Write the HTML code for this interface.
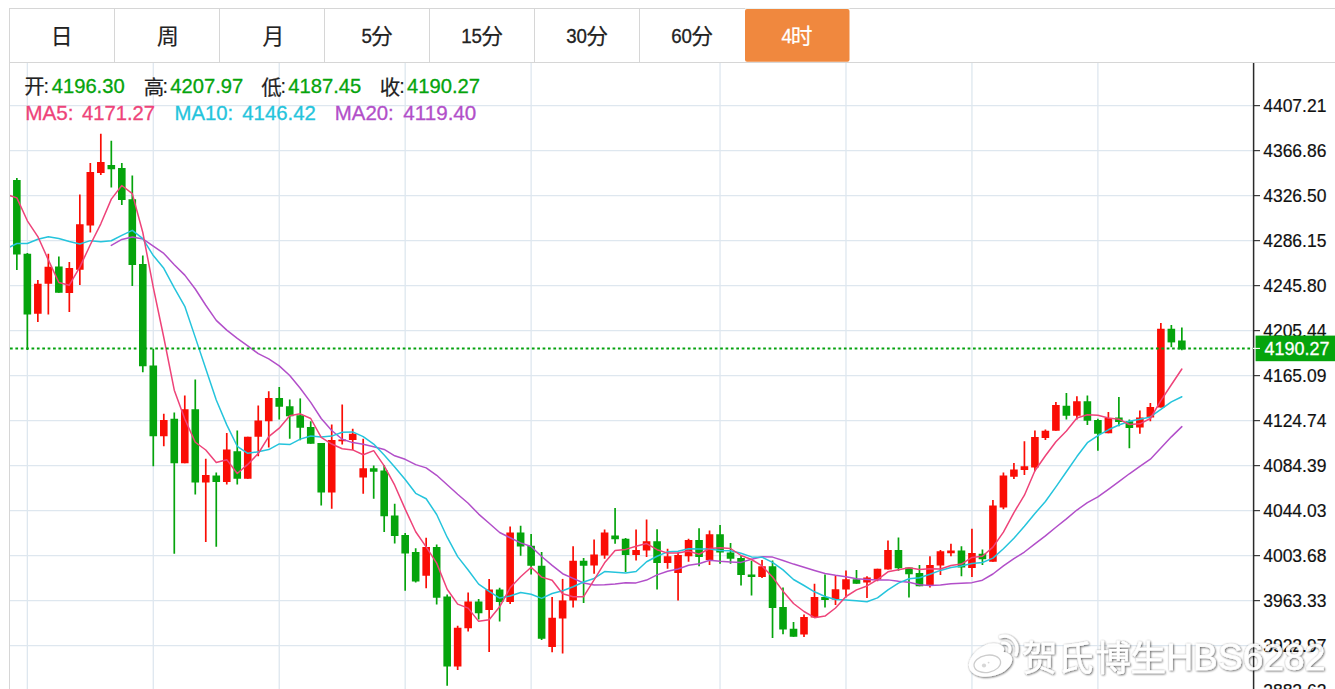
<!DOCTYPE html>
<html><head><meta charset="utf-8"><title>K-line chart</title>
<style>html,body{margin:0;padding:0;background:#fff;}body{width:1335px;height:689px;overflow:hidden;position:relative;font-family:"Liberation Sans",sans-serif;}text{white-space:pre}</style></head><body>
<svg width="1335" height="689" viewBox="0 0 1335 689" style="position:absolute;left:0;top:0;display:block"><defs><clipPath id="plot"><rect x="10" y="63" width="1243" height="626"/></clipPath><filter id="wsh" x="-5%" y="-20%" width="110%" height="140%"><feGaussianBlur in="SourceAlpha" stdDeviation="0.9" result="b"/><feOffset in="b" dx="0.6" dy="0.7" result="ob"/><feFlood flood-color="#000" flood-opacity="0.55"/><feComposite in2="ob" operator="in" result="s1"/><feFlood flood-color="#000" flood-opacity="0.3"/><feComposite in2="b" operator="in" result="s2"/><feMerge><feMergeNode in="s2"/><feMergeNode in="s1"/><feMergeNode in="SourceGraphic"/></feMerge></filter></defs><line x1="10" x2="1253" y1="105.65" y2="105.65" stroke="#dee7ef" stroke-width="1.3"/>
<line x1="10" x2="1253" y1="150.65" y2="150.65" stroke="#dee7ef" stroke-width="1.3"/>
<line x1="10" x2="1253" y1="195.65" y2="195.65" stroke="#dee7ef" stroke-width="1.3"/>
<line x1="10" x2="1253" y1="240.65" y2="240.65" stroke="#dee7ef" stroke-width="1.3"/>
<line x1="10" x2="1253" y1="285.65" y2="285.65" stroke="#dee7ef" stroke-width="1.3"/>
<line x1="10" x2="1253" y1="330.65" y2="330.65" stroke="#dee7ef" stroke-width="1.3"/>
<line x1="10" x2="1253" y1="375.65" y2="375.65" stroke="#dee7ef" stroke-width="1.3"/>
<line x1="10" x2="1253" y1="420.65" y2="420.65" stroke="#dee7ef" stroke-width="1.3"/>
<line x1="10" x2="1253" y1="465.65" y2="465.65" stroke="#dee7ef" stroke-width="1.3"/>
<line x1="10" x2="1253" y1="510.65" y2="510.65" stroke="#dee7ef" stroke-width="1.3"/>
<line x1="10" x2="1253" y1="555.65" y2="555.65" stroke="#dee7ef" stroke-width="1.3"/>
<line x1="10" x2="1253" y1="600.65" y2="600.65" stroke="#dee7ef" stroke-width="1.3"/>
<line x1="10" x2="1253" y1="645.65" y2="645.65" stroke="#dee7ef" stroke-width="1.3"/>
<line x1="27.35" x2="27.35" y1="63" y2="689" stroke="#dee7ef" stroke-width="1.3"/>
<line x1="153.29" x2="153.29" y1="63" y2="689" stroke="#dee7ef" stroke-width="1.3"/>
<line x1="279.24" x2="279.24" y1="63" y2="689" stroke="#dee7ef" stroke-width="1.3"/>
<line x1="405.18" x2="405.18" y1="63" y2="689" stroke="#dee7ef" stroke-width="1.3"/>
<line x1="531.13" x2="531.13" y1="63" y2="689" stroke="#dee7ef" stroke-width="1.3"/>
<line x1="720.05" x2="720.05" y1="63" y2="689" stroke="#dee7ef" stroke-width="1.3"/>
<line x1="845.99" x2="845.99" y1="63" y2="689" stroke="#dee7ef" stroke-width="1.3"/>
<line x1="971.94" x2="971.94" y1="63" y2="689" stroke="#dee7ef" stroke-width="1.3"/>
<line x1="1097.89" x2="1097.89" y1="63" y2="689" stroke="#dee7ef" stroke-width="1.3"/>
<line x1="9" x2="1335" y1="8.5" y2="8.5" stroke="#d6d6d6" stroke-width="1"/>
<line x1="9" x2="1335" y1="62.5" y2="62.5" stroke="#d6d6d6" stroke-width="1"/>
<line x1="9.5" x2="9.5" y1="8" y2="689" stroke="#d6d6d6" stroke-width="1"/>
<line x1="114.5" x2="114.5" y1="9" y2="62" stroke="#d6d6d6" stroke-width="1"/>
<line x1="219.5" x2="219.5" y1="9" y2="62" stroke="#d6d6d6" stroke-width="1"/>
<line x1="324.5" x2="324.5" y1="9" y2="62" stroke="#d6d6d6" stroke-width="1"/>
<line x1="429.5" x2="429.5" y1="9" y2="62" stroke="#d6d6d6" stroke-width="1"/>
<line x1="534.5" x2="534.5" y1="9" y2="62" stroke="#d6d6d6" stroke-width="1"/>
<line x1="639.5" x2="639.5" y1="9" y2="62" stroke="#d6d6d6" stroke-width="1"/>
<line x1="745" x2="849.5" y1="8.5" y2="8.5" stroke="#eaf2f2" stroke-width="1.2"/><rect x="745" y="8.9" width="104.5" height="52.9" rx="2" fill="#f0883e"/>
<text x="50.84" y="44.16" font-size="21.8" font-family="'Liberation Sans', 'Noto Sans CJK SC', sans-serif" fill="#222" text-anchor="start" stroke="#222" stroke-width="0.2">日</text>
<text x="156.89" y="44.19" font-size="21.8" font-family="'Liberation Sans', 'Noto Sans CJK SC', sans-serif" fill="#222" text-anchor="start" stroke="#222" stroke-width="0.2">周</text>
<text x="262.59" y="44.19" font-size="21.8" font-family="'Liberation Sans', 'Noto Sans CJK SC', sans-serif" fill="#222" text-anchor="start" stroke="#222" stroke-width="0.2">月</text>
<text x="361.4" y="43.2" font-size="19.5" font-family="Liberation Sans, sans-serif" fill="#222" text-anchor="start" textLength="10.4" lengthAdjust="spacingAndGlyphs"  stroke="#222" stroke-width="0.3">5</text>
<text x="371.07" y="43.94" font-size="21.8" font-family="'Liberation Sans', 'Noto Sans CJK SC', sans-serif" fill="#222" text-anchor="start" stroke="#222" stroke-width="0.2">分</text>
<text x="461.2" y="43.2" font-size="19.5" font-family="Liberation Sans, sans-serif" fill="#222" text-anchor="start" textLength="20.8" lengthAdjust="spacingAndGlyphs"  stroke="#222" stroke-width="0.3">15</text>
<text x="481.27" y="43.94" font-size="21.8" font-family="'Liberation Sans', 'Noto Sans CJK SC', sans-serif" fill="#222" text-anchor="start" stroke="#222" stroke-width="0.2">分</text>
<text x="566.2" y="43.2" font-size="19.5" font-family="Liberation Sans, sans-serif" fill="#222" text-anchor="start" textLength="20.8" lengthAdjust="spacingAndGlyphs"  stroke="#222" stroke-width="0.3">30</text>
<text x="586.27" y="43.94" font-size="21.8" font-family="'Liberation Sans', 'Noto Sans CJK SC', sans-serif" fill="#222" text-anchor="start" stroke="#222" stroke-width="0.2">分</text>
<text x="671.2" y="43.2" font-size="19.5" font-family="Liberation Sans, sans-serif" fill="#222" text-anchor="start" textLength="20.8" lengthAdjust="spacingAndGlyphs"  stroke="#222" stroke-width="0.3">60</text>
<text x="691.27" y="43.94" font-size="21.8" font-family="'Liberation Sans', 'Noto Sans CJK SC', sans-serif" fill="#222" text-anchor="start" stroke="#222" stroke-width="0.2">分</text>
<text x="781.4" y="43.2" font-size="19.5" font-family="Liberation Sans, sans-serif" fill="#fff" text-anchor="start" textLength="10.4" lengthAdjust="spacingAndGlyphs"  stroke="#fff" stroke-width="0.3">4</text>
<text x="790.65" y="44.22" font-size="21.8" font-family="'Liberation Sans', 'Noto Sans CJK SC', sans-serif" fill="#fff" text-anchor="start" stroke="#fff" stroke-width="0.2">时</text>
<text x="24.29" y="94.11" font-size="20.5" font-family="'Liberation Sans', 'Noto Sans CJK SC', sans-serif" fill="#222" text-anchor="start" stroke="#222" stroke-width="0.2">开</text>
<text x="43.6" y="92.9" font-size="19.8" font-family="Liberation Sans, sans-serif" fill="#222" text-anchor="start"  stroke="#222" stroke-width="0.15">:</text>
<text x="143.74" y="94.84" font-size="20.5" font-family="'Liberation Sans', 'Noto Sans CJK SC', sans-serif" fill="#222" text-anchor="start" stroke="#222" stroke-width="0.2">高</text>
<text x="162.6" y="92.9" font-size="19.8" font-family="Liberation Sans, sans-serif" fill="#222" text-anchor="start"  stroke="#222" stroke-width="0.15">:</text>
<text x="261.22" y="94.74" font-size="20.5" font-family="'Liberation Sans', 'Noto Sans CJK SC', sans-serif" fill="#222" text-anchor="start" stroke="#222" stroke-width="0.2">低</text>
<text x="280.6" y="92.9" font-size="19.8" font-family="Liberation Sans, sans-serif" fill="#222" text-anchor="start"  stroke="#222" stroke-width="0.15">:</text>
<text x="379.74" y="94.79" font-size="20.5" font-family="'Liberation Sans', 'Noto Sans CJK SC', sans-serif" fill="#222" text-anchor="start" stroke="#222" stroke-width="0.2">收</text>
<text x="399.2" y="92.9" font-size="19.8" font-family="Liberation Sans, sans-serif" fill="#222" text-anchor="start"  stroke="#222" stroke-width="0.15">:</text>
<text x="51.7" y="93.3" font-size="19.8" font-family="Liberation Sans, sans-serif" fill="#05a40c" text-anchor="start" textLength="73" lengthAdjust="spacingAndGlyphs"  stroke="#05a40c" stroke-width="0.3">4196.30</text>
<text x="170.3" y="93.3" font-size="19.8" font-family="Liberation Sans, sans-serif" fill="#05a40c" text-anchor="start" textLength="73" lengthAdjust="spacingAndGlyphs"  stroke="#05a40c" stroke-width="0.3">4207.97</text>
<text x="288.3" y="93.3" font-size="19.8" font-family="Liberation Sans, sans-serif" fill="#05a40c" text-anchor="start" textLength="73" lengthAdjust="spacingAndGlyphs"  stroke="#05a40c" stroke-width="0.3">4187.45</text>
<text x="407" y="93.3" font-size="19.8" font-family="Liberation Sans, sans-serif" fill="#05a40c" text-anchor="start" textLength="73" lengthAdjust="spacingAndGlyphs"  stroke="#05a40c" stroke-width="0.3">4190.27</text>
<text x="25.2" y="120.4" font-size="19.8" font-family="Liberation Sans, sans-serif" fill="#ee4379" text-anchor="start" textLength="48.4" lengthAdjust="spacingAndGlyphs"  stroke="#ee4379" stroke-width="0.3">MA5:</text>
<text x="82" y="120.4" font-size="19.8" font-family="Liberation Sans, sans-serif" fill="#ee4379" text-anchor="start" textLength="73" lengthAdjust="spacingAndGlyphs"  stroke="#ee4379" stroke-width="0.3">4171.27</text>
<text x="174.6" y="120.4" font-size="19.8" font-family="Liberation Sans, sans-serif" fill="#25c4dc" text-anchor="start" textLength="58.6" lengthAdjust="spacingAndGlyphs"  stroke="#25c4dc" stroke-width="0.3">MA10:</text>
<text x="242.3" y="120.4" font-size="19.8" font-family="Liberation Sans, sans-serif" fill="#25c4dc" text-anchor="start" textLength="73.6" lengthAdjust="spacingAndGlyphs"  stroke="#25c4dc" stroke-width="0.3">4146.42</text>
<text x="334.8" y="120.4" font-size="19.8" font-family="Liberation Sans, sans-serif" fill="#b24fc9" text-anchor="start" textLength="59" lengthAdjust="spacingAndGlyphs"  stroke="#b24fc9" stroke-width="0.3">MA20:</text>
<text x="403.3" y="120.4" font-size="19.8" font-family="Liberation Sans, sans-serif" fill="#b24fc9" text-anchor="start" textLength="73" lengthAdjust="spacingAndGlyphs"  stroke="#b24fc9" stroke-width="0.3">4119.40</text>
<g clip-path="url(#plot)"><line x1="16.85" x2="16.85" y1="178" y2="270" stroke="#05a40c" stroke-width="1.7"/><rect x="13.05" y="180" width="7.6" height="74.5" fill="#05a40c"/><line x1="27.35" x2="27.35" y1="253" y2="350" stroke="#05a40c" stroke-width="1.7"/><rect x="23.55" y="253.75" width="7.6" height="60.75" fill="#05a40c"/><line x1="37.84" x2="37.84" y1="280" y2="322" stroke="#fa0d05" stroke-width="1.7"/><rect x="34.04" y="283.75" width="7.6" height="30" fill="#fa0d05"/><line x1="48.34" x2="48.34" y1="253.75" y2="314.5" stroke="#fa0d05" stroke-width="1.7"/><rect x="44.54" y="266.75" width="7.6" height="17" fill="#fa0d05"/><line x1="58.83" x2="58.83" y1="256.5" y2="292.75" stroke="#05a40c" stroke-width="1.7"/><rect x="55.03" y="266.5" width="7.6" height="26.25" fill="#05a40c"/><line x1="69.33" x2="69.33" y1="262" y2="312" stroke="#fa0d05" stroke-width="1.7"/><rect x="65.53" y="268" width="7.6" height="25" fill="#fa0d05"/><line x1="79.82" x2="79.82" y1="194.5" y2="285" stroke="#fa0d05" stroke-width="1.7"/><rect x="76.02" y="224.25" width="7.6" height="45.5" fill="#fa0d05"/><line x1="90.32" x2="90.32" y1="163" y2="232.5" stroke="#fa0d05" stroke-width="1.7"/><rect x="86.52" y="172" width="7.6" height="53.5" fill="#fa0d05"/><line x1="100.81" x2="100.81" y1="133.75" y2="175" stroke="#fa0d05" stroke-width="1.7"/><rect x="97.01" y="162" width="7.6" height="11" fill="#fa0d05"/><line x1="111.31" x2="111.31" y1="140.75" y2="187.5" stroke="#05a40c" stroke-width="1.7"/><rect x="107.51" y="165" width="7.6" height="4.25" fill="#05a40c"/><line x1="121.81" x2="121.81" y1="163" y2="205" stroke="#05a40c" stroke-width="1.7"/><rect x="118.01" y="168" width="7.6" height="32" fill="#05a40c"/><line x1="132.3" x2="132.3" y1="175.5" y2="286" stroke="#05a40c" stroke-width="1.7"/><rect x="128.5" y="199.25" width="7.6" height="65.75" fill="#05a40c"/><line x1="142.8" x2="142.8" y1="255.5" y2="372.25" stroke="#05a40c" stroke-width="1.7"/><rect x="139" y="264" width="7.6" height="102.25" fill="#05a40c"/><line x1="153.29" x2="153.29" y1="348.75" y2="466.25" stroke="#05a40c" stroke-width="1.7"/><rect x="149.49" y="365.5" width="7.6" height="70.75" fill="#05a40c"/><line x1="163.79" x2="163.79" y1="413.75" y2="446.25" stroke="#fa0d05" stroke-width="1.7"/><rect x="159.99" y="420" width="7.6" height="16.25" fill="#fa0d05"/><line x1="174.28" x2="174.28" y1="412.5" y2="553.75" stroke="#05a40c" stroke-width="1.7"/><rect x="170.48" y="418.75" width="7.6" height="44.5" fill="#05a40c"/><line x1="184.78" x2="184.78" y1="395.5" y2="463.25" stroke="#fa0d05" stroke-width="1.7"/><rect x="180.98" y="409.25" width="7.6" height="54" fill="#fa0d05"/><line x1="195.27" x2="195.27" y1="379.5" y2="494.5" stroke="#05a40c" stroke-width="1.7"/><rect x="191.47" y="409.25" width="7.6" height="73.25" fill="#05a40c"/><line x1="205.77" x2="205.77" y1="458.75" y2="542" stroke="#fa0d05" stroke-width="1.7"/><rect x="201.97" y="475" width="7.6" height="7.5" fill="#fa0d05"/><line x1="216.26" x2="216.26" y1="472.5" y2="546.75" stroke="#05a40c" stroke-width="1.7"/><rect x="212.46" y="475.5" width="7.6" height="6.5" fill="#05a40c"/><line x1="226.76" x2="226.76" y1="433" y2="484.5" stroke="#fa0d05" stroke-width="1.7"/><rect x="222.96" y="449.5" width="7.6" height="32.5" fill="#fa0d05"/><line x1="237.26" x2="237.26" y1="430.5" y2="484.5" stroke="#05a40c" stroke-width="1.7"/><rect x="233.46" y="451.25" width="7.6" height="27.5" fill="#05a40c"/><line x1="247.75" x2="247.75" y1="436.75" y2="478.75" stroke="#fa0d05" stroke-width="1.7"/><rect x="243.95" y="436.75" width="7.6" height="42" fill="#fa0d05"/><line x1="258.25" x2="258.25" y1="405.5" y2="456.25" stroke="#fa0d05" stroke-width="1.7"/><rect x="254.45" y="420.5" width="7.6" height="16.25" fill="#fa0d05"/><line x1="268.74" x2="268.74" y1="391.25" y2="447.5" stroke="#fa0d05" stroke-width="1.7"/><rect x="264.94" y="398" width="7.6" height="23.25" fill="#fa0d05"/><line x1="279.24" x2="279.24" y1="387" y2="419.5" stroke="#05a40c" stroke-width="1.7"/><rect x="275.44" y="398" width="7.6" height="8.75" fill="#05a40c"/><line x1="289.73" x2="289.73" y1="399.5" y2="438.75" stroke="#05a40c" stroke-width="1.7"/><rect x="285.93" y="406.25" width="7.6" height="10" fill="#05a40c"/><line x1="300.23" x2="300.23" y1="398.4" y2="440.25" stroke="#05a40c" stroke-width="1.7"/><rect x="296.43" y="415.25" width="7.6" height="12.5" fill="#05a40c"/><line x1="310.72" x2="310.72" y1="421.25" y2="443.75" stroke="#05a40c" stroke-width="1.7"/><rect x="306.92" y="427" width="7.6" height="16.75" fill="#05a40c"/><line x1="321.22" x2="321.22" y1="443" y2="505.5" stroke="#05a40c" stroke-width="1.7"/><rect x="317.42" y="443" width="7.6" height="49.5" fill="#05a40c"/><line x1="331.72" x2="331.72" y1="424.5" y2="508.75" stroke="#fa0d05" stroke-width="1.7"/><rect x="327.92" y="440" width="7.6" height="52.5" fill="#fa0d05"/><line x1="342.21" x2="342.21" y1="404.5" y2="444.5" stroke="#fa0d05" stroke-width="1.7"/><rect x="338.41" y="439.5" width="7.6" height="1.75" fill="#fa0d05"/><line x1="352.71" x2="352.71" y1="428.75" y2="450" stroke="#fa0d05" stroke-width="1.7"/><rect x="348.91" y="433.75" width="7.6" height="6.25" fill="#fa0d05"/><line x1="363.2" x2="363.2" y1="438.75" y2="493.75" stroke="#fa0d05" stroke-width="1.7"/><rect x="359.4" y="468.25" width="7.6" height="9.25" fill="#fa0d05"/><line x1="373.7" x2="373.7" y1="465.5" y2="498.75" stroke="#05a40c" stroke-width="1.7"/><rect x="369.9" y="468.25" width="7.6" height="3.5" fill="#05a40c"/><line x1="384.19" x2="384.19" y1="465" y2="532" stroke="#05a40c" stroke-width="1.7"/><rect x="380.39" y="470.5" width="7.6" height="45.75" fill="#05a40c"/><line x1="394.69" x2="394.69" y1="503.75" y2="543.5" stroke="#05a40c" stroke-width="1.7"/><rect x="390.89" y="515.5" width="7.6" height="20.5" fill="#05a40c"/><line x1="405.18" x2="405.18" y1="533" y2="590.75" stroke="#05a40c" stroke-width="1.7"/><rect x="401.38" y="535" width="7.6" height="18.5" fill="#05a40c"/><line x1="415.68" x2="415.68" y1="548.25" y2="582.5" stroke="#05a40c" stroke-width="1.7"/><rect x="411.88" y="552" width="7.6" height="29.5" fill="#05a40c"/><line x1="426.17" x2="426.17" y1="537.75" y2="588.25" stroke="#fa0d05" stroke-width="1.7"/><rect x="422.37" y="547" width="7.6" height="28.75" fill="#fa0d05"/><line x1="436.67" x2="436.67" y1="544.5" y2="604.5" stroke="#05a40c" stroke-width="1.7"/><rect x="432.87" y="547" width="7.6" height="50.75" fill="#05a40c"/><line x1="447.17" x2="447.17" y1="594.5" y2="685.75" stroke="#05a40c" stroke-width="1.7"/><rect x="443.37" y="596.5" width="7.6" height="70" fill="#05a40c"/><line x1="457.66" x2="457.66" y1="625.75" y2="670" stroke="#fa0d05" stroke-width="1.7"/><rect x="453.86" y="627.75" width="7.6" height="38.75" fill="#fa0d05"/><line x1="468.16" x2="468.16" y1="592.5" y2="631.5" stroke="#fa0d05" stroke-width="1.7"/><rect x="464.36" y="601.5" width="7.6" height="26.75" fill="#fa0d05"/><line x1="478.65" x2="478.65" y1="599" y2="619.5" stroke="#05a40c" stroke-width="1.7"/><rect x="474.85" y="601.5" width="7.6" height="11.75" fill="#05a40c"/><line x1="489.15" x2="489.15" y1="579" y2="652" stroke="#fa0d05" stroke-width="1.7"/><rect x="485.35" y="589.5" width="7.6" height="20.5" fill="#fa0d05"/><line x1="499.64" x2="499.64" y1="587.75" y2="621.5" stroke="#05a40c" stroke-width="1.7"/><rect x="495.84" y="589.5" width="7.6" height="12.5" fill="#05a40c"/><line x1="510.14" x2="510.14" y1="526.5" y2="604" stroke="#fa0d05" stroke-width="1.7"/><rect x="506.34" y="532.5" width="7.6" height="69.5" fill="#fa0d05"/><line x1="520.63" x2="520.63" y1="525.75" y2="555.75" stroke="#05a40c" stroke-width="1.7"/><rect x="516.83" y="532.5" width="7.6" height="14" fill="#05a40c"/><line x1="531.13" x2="531.13" y1="534" y2="574.5" stroke="#05a40c" stroke-width="1.7"/><rect x="527.33" y="545.75" width="7.6" height="20" fill="#05a40c"/><line x1="541.62" x2="541.62" y1="552" y2="640" stroke="#05a40c" stroke-width="1.7"/><rect x="537.83" y="565.75" width="7.6" height="73" fill="#05a40c"/><line x1="552.12" x2="552.12" y1="597" y2="652.25" stroke="#fa0d05" stroke-width="1.7"/><rect x="548.32" y="617.75" width="7.6" height="29.25" fill="#fa0d05"/><line x1="562.62" x2="562.62" y1="578.9" y2="653.5" stroke="#fa0d05" stroke-width="1.7"/><rect x="558.82" y="600.4" width="7.6" height="18.1" fill="#fa0d05"/><line x1="573.11" x2="573.11" y1="546.25" y2="607.5" stroke="#fa0d05" stroke-width="1.7"/><rect x="569.31" y="560.75" width="7.6" height="39.75" fill="#fa0d05"/><line x1="583.61" x2="583.61" y1="558" y2="603" stroke="#05a40c" stroke-width="1.7"/><rect x="579.81" y="560.75" width="7.6" height="5" fill="#05a40c"/><line x1="594.1" x2="594.1" y1="539.5" y2="573.75" stroke="#fa0d05" stroke-width="1.7"/><rect x="590.3" y="554.5" width="7.6" height="11" fill="#fa0d05"/><line x1="604.6" x2="604.6" y1="529.5" y2="558.75" stroke="#fa0d05" stroke-width="1.7"/><rect x="600.8" y="532.5" width="7.6" height="23" fill="#fa0d05"/><line x1="615.09" x2="615.09" y1="508" y2="543.75" stroke="#05a40c" stroke-width="1.7"/><rect x="611.29" y="535.5" width="7.6" height="3.75" fill="#05a40c"/><line x1="625.59" x2="625.59" y1="538" y2="572" stroke="#05a40c" stroke-width="1.7"/><rect x="621.79" y="538.75" width="7.6" height="16.25" fill="#05a40c"/><line x1="636.08" x2="636.08" y1="529.5" y2="560.5" stroke="#fa0d05" stroke-width="1.7"/><rect x="632.28" y="550" width="7.6" height="5" fill="#fa0d05"/><line x1="646.58" x2="646.58" y1="519.5" y2="557" stroke="#fa0d05" stroke-width="1.7"/><rect x="642.78" y="541.25" width="7.6" height="9.25" fill="#fa0d05"/><line x1="657.08" x2="657.08" y1="529.25" y2="589.5" stroke="#05a40c" stroke-width="1.7"/><rect x="653.28" y="541.25" width="7.6" height="21.75" fill="#05a40c"/><line x1="667.57" x2="667.57" y1="548.75" y2="568.75" stroke="#fa0d05" stroke-width="1.7"/><rect x="663.77" y="556.25" width="7.6" height="6.75" fill="#fa0d05"/><line x1="678.07" x2="678.07" y1="552.5" y2="600.5" stroke="#fa0d05" stroke-width="1.7"/><rect x="674.27" y="555" width="7.6" height="18" fill="#fa0d05"/><line x1="688.56" x2="688.56" y1="538.75" y2="561.75" stroke="#fa0d05" stroke-width="1.7"/><rect x="684.76" y="540" width="7.6" height="16.25" fill="#fa0d05"/><line x1="699.06" x2="699.06" y1="528.25" y2="566.25" stroke="#05a40c" stroke-width="1.7"/><rect x="695.26" y="540" width="7.6" height="17" fill="#05a40c"/><line x1="709.55" x2="709.55" y1="530.5" y2="565" stroke="#fa0d05" stroke-width="1.7"/><rect x="705.75" y="534.25" width="7.6" height="25.75" fill="#fa0d05"/><line x1="720.05" x2="720.05" y1="525" y2="563.75" stroke="#05a40c" stroke-width="1.7"/><rect x="716.25" y="534.25" width="7.6" height="18.25" fill="#05a40c"/><line x1="730.54" x2="730.54" y1="543" y2="563.75" stroke="#05a40c" stroke-width="1.7"/><rect x="726.74" y="552.5" width="7.6" height="6.25" fill="#05a40c"/><line x1="741.04" x2="741.04" y1="555.5" y2="585.5" stroke="#05a40c" stroke-width="1.7"/><rect x="737.24" y="558" width="7.6" height="17" fill="#05a40c"/><line x1="751.53" x2="751.53" y1="560.75" y2="595.5" stroke="#05a40c" stroke-width="1.7"/><rect x="747.74" y="574.5" width="7.6" height="2.5" fill="#05a40c"/><line x1="762.03" x2="762.03" y1="560" y2="578" stroke="#fa0d05" stroke-width="1.7"/><rect x="758.23" y="566.25" width="7.6" height="10.75" fill="#fa0d05"/><line x1="772.53" x2="772.53" y1="560.5" y2="638" stroke="#05a40c" stroke-width="1.7"/><rect x="768.73" y="566.25" width="7.6" height="41.75" fill="#05a40c"/><line x1="783.02" x2="783.02" y1="587.5" y2="634.25" stroke="#05a40c" stroke-width="1.7"/><rect x="779.22" y="607" width="7.6" height="22.5" fill="#05a40c"/><line x1="793.52" x2="793.52" y1="622" y2="636.75" stroke="#05a40c" stroke-width="1.7"/><rect x="789.72" y="628.75" width="7.6" height="8" fill="#05a40c"/><line x1="804.01" x2="804.01" y1="614.5" y2="637" stroke="#fa0d05" stroke-width="1.7"/><rect x="800.21" y="617" width="7.6" height="17.5" fill="#fa0d05"/><line x1="814.51" x2="814.51" y1="583.75" y2="617.5" stroke="#fa0d05" stroke-width="1.7"/><rect x="810.71" y="597" width="7.6" height="20.5" fill="#fa0d05"/><line x1="825" x2="825" y1="574.5" y2="607.5" stroke="#05a40c" stroke-width="1.7"/><rect x="821.2" y="597" width="7.6" height="3" fill="#05a40c"/><line x1="835.5" x2="835.5" y1="575.75" y2="605" stroke="#fa0d05" stroke-width="1.7"/><rect x="831.7" y="589.25" width="7.6" height="10.25" fill="#fa0d05"/><line x1="845.99" x2="845.99" y1="570.5" y2="597.5" stroke="#fa0d05" stroke-width="1.7"/><rect x="842.19" y="579.25" width="7.6" height="10.25" fill="#fa0d05"/><line x1="856.49" x2="856.49" y1="570" y2="583.75" stroke="#05a40c" stroke-width="1.7"/><rect x="852.69" y="579.25" width="7.6" height="4.5" fill="#05a40c"/><line x1="866.99" x2="866.99" y1="576.25" y2="598.1" stroke="#fa0d05" stroke-width="1.7"/><rect x="863.19" y="577.5" width="7.6" height="5" fill="#fa0d05"/><line x1="877.48" x2="877.48" y1="568.75" y2="581.25" stroke="#fa0d05" stroke-width="1.7"/><rect x="873.68" y="568.75" width="7.6" height="10.75" fill="#fa0d05"/><line x1="887.98" x2="887.98" y1="540.5" y2="569.5" stroke="#fa0d05" stroke-width="1.7"/><rect x="884.18" y="550" width="7.6" height="19.5" fill="#fa0d05"/><line x1="898.47" x2="898.47" y1="537.5" y2="570.75" stroke="#05a40c" stroke-width="1.7"/><rect x="894.67" y="550" width="7.6" height="18.25" fill="#05a40c"/><line x1="908.97" x2="908.97" y1="567.5" y2="597.5" stroke="#05a40c" stroke-width="1.7"/><rect x="905.17" y="567.5" width="7.6" height="6.75" fill="#05a40c"/><line x1="919.46" x2="919.46" y1="565" y2="586.25" stroke="#05a40c" stroke-width="1.7"/><rect x="915.66" y="573" width="7.6" height="13.25" fill="#05a40c"/><line x1="929.96" x2="929.96" y1="556.25" y2="587.5" stroke="#fa0d05" stroke-width="1.7"/><rect x="926.16" y="565" width="7.6" height="20" fill="#fa0d05"/><line x1="940.45" x2="940.45" y1="550" y2="575" stroke="#fa0d05" stroke-width="1.7"/><rect x="936.65" y="551.25" width="7.6" height="14.25" fill="#fa0d05"/><line x1="950.95" x2="950.95" y1="543.75" y2="556.25" stroke="#fa0d05" stroke-width="1.7"/><rect x="947.15" y="550.5" width="7.6" height="2.75" fill="#fa0d05"/><line x1="961.45" x2="961.45" y1="546.25" y2="576.25" stroke="#05a40c" stroke-width="1.7"/><rect x="957.65" y="550.5" width="7.6" height="17" fill="#05a40c"/><line x1="971.94" x2="971.94" y1="528.75" y2="577" stroke="#fa0d05" stroke-width="1.7"/><rect x="968.14" y="553" width="7.6" height="15" fill="#fa0d05"/><line x1="982.44" x2="982.44" y1="549.5" y2="565" stroke="#05a40c" stroke-width="1.7"/><rect x="978.64" y="553.75" width="7.6" height="5.5" fill="#05a40c"/><line x1="992.93" x2="992.93" y1="500" y2="561.75" stroke="#fa0d05" stroke-width="1.7"/><rect x="989.13" y="505.5" width="7.6" height="56.25" fill="#fa0d05"/><line x1="1003.43" x2="1003.43" y1="472.5" y2="509.25" stroke="#fa0d05" stroke-width="1.7"/><rect x="999.63" y="475.5" width="7.6" height="32" fill="#fa0d05"/><line x1="1013.92" x2="1013.92" y1="463" y2="479" stroke="#fa0d05" stroke-width="1.7"/><rect x="1010.12" y="469.5" width="7.6" height="7.25" fill="#fa0d05"/><line x1="1024.42" x2="1024.42" y1="441.25" y2="475" stroke="#fa0d05" stroke-width="1.7"/><rect x="1020.62" y="466.25" width="7.6" height="3.75" fill="#fa0d05"/><line x1="1034.91" x2="1034.91" y1="430.5" y2="471.25" stroke="#fa0d05" stroke-width="1.7"/><rect x="1031.11" y="437" width="7.6" height="30.5" fill="#fa0d05"/><line x1="1045.41" x2="1045.41" y1="429.5" y2="440" stroke="#fa0d05" stroke-width="1.7"/><rect x="1041.61" y="430.75" width="7.6" height="7.25" fill="#fa0d05"/><line x1="1055.9" x2="1055.9" y1="402" y2="430.75" stroke="#fa0d05" stroke-width="1.7"/><rect x="1052.1" y="405" width="7.6" height="25.75" fill="#fa0d05"/><line x1="1066.4" x2="1066.4" y1="393" y2="419.5" stroke="#05a40c" stroke-width="1.7"/><rect x="1062.6" y="405.75" width="7.6" height="10" fill="#05a40c"/><line x1="1076.9" x2="1076.9" y1="396.25" y2="419.5" stroke="#fa0d05" stroke-width="1.7"/><rect x="1073.1" y="401.25" width="7.6" height="14.5" fill="#fa0d05"/><line x1="1087.39" x2="1087.39" y1="395.5" y2="425" stroke="#05a40c" stroke-width="1.7"/><rect x="1083.59" y="401.25" width="7.6" height="19.5" fill="#05a40c"/><line x1="1097.89" x2="1097.89" y1="418.75" y2="450.75" stroke="#05a40c" stroke-width="1.7"/><rect x="1094.09" y="420" width="7.6" height="13.75" fill="#05a40c"/><line x1="1108.38" x2="1108.38" y1="412" y2="433.25" stroke="#fa0d05" stroke-width="1.7"/><rect x="1104.58" y="418" width="7.6" height="15.25" fill="#fa0d05"/><line x1="1118.88" x2="1118.88" y1="397" y2="426.25" stroke="#05a40c" stroke-width="1.7"/><rect x="1115.08" y="417.5" width="7.6" height="4.5" fill="#05a40c"/><line x1="1129.37" x2="1129.37" y1="419.5" y2="448.25" stroke="#05a40c" stroke-width="1.7"/><rect x="1125.57" y="421.25" width="7.6" height="6.75" fill="#05a40c"/><line x1="1139.87" x2="1139.87" y1="410.5" y2="433.75" stroke="#fa0d05" stroke-width="1.7"/><rect x="1136.07" y="417.5" width="7.6" height="10" fill="#fa0d05"/><line x1="1150.36" x2="1150.36" y1="403" y2="421.25" stroke="#fa0d05" stroke-width="1.7"/><rect x="1146.56" y="407" width="7.6" height="10.5" fill="#fa0d05"/><line x1="1160.86" x2="1160.86" y1="323" y2="407.5" stroke="#fa0d05" stroke-width="1.7"/><rect x="1157.06" y="328.75" width="7.6" height="78.75" fill="#fa0d05"/><line x1="1171.35" x2="1171.35" y1="325" y2="347.2" stroke="#05a40c" stroke-width="1.7"/><rect x="1167.55" y="328.75" width="7.6" height="13.65" fill="#05a40c"/><line x1="1181.85" x2="1181.85" y1="327.5" y2="350.2" stroke="#05a40c" stroke-width="1.7"/><rect x="1178.05" y="340.5" width="7.6" height="8.9" fill="#05a40c"/><path d="M111.31 245.36 L121.81 239.41 L132.3 236.94 L142.8 238.95 L153.29 246.16 L163.79 253.41 L174.28 264.68 L184.78 275.14 L195.27 289.01 L205.77 305.26 L216.26 320.36 L226.76 330.11 L237.26 338.32 L247.75 345.98 L258.25 353.66 L268.74 358.93 L279.24 365.86 L289.73 375.46 L300.23 388.25 L310.72 402.34 L321.22 418.5 L331.72 430.5 L342.21 439.23 L352.71 442.6 L363.2 444.2 L373.7 446.79 L384.19 449.44 L394.69 455.77 L405.18 459.32 L415.68 464.65 L426.17 467.9 L436.67 475.31 L447.17 484.7 L457.66 494.25 L468.16 503.3 L478.65 514.06 L489.15 523.2 L499.64 532.49 L510.14 537.73 L520.63 542.86 L531.13 546.52 L541.62 556.46 L552.12 565.38 L562.62 573.71 L573.11 578.33 L583.61 583.03 L594.1 584.94 L604.6 584.77 L615.09 584.06 L625.59 582.73 L636.08 582.88 L646.58 580.06 L657.08 574.88 L667.57 571.31 L678.07 568.98 L688.56 565.32 L699.06 563.69 L709.55 560.31 L720.05 561.31 L730.54 561.92 L741.04 562.38 L751.53 559.29 L762.03 556.72 L772.53 557.1 L783.02 560.54 L793.52 564.09 L804.01 567.21 L814.51 570.44 L825 573.48 L835.5 575.19 L845.99 576.65 L856.49 578.77 L866.99 579.5 L877.48 580.12 L887.98 579.88 L898.47 581.29 L908.97 582.15 L919.46 584.75 L929.96 585.38 L940.45 585 L950.95 583.77 L961.45 583.3 L971.94 582.64 L982.44 580.2 L992.93 574 L1003.43 565.94 L1013.92 558.56 L1024.42 552.02 L1034.91 543.88 L1045.41 535.95 L1055.9 527.24 L1066.4 518.84 L1076.9 510.02 L1087.39 502.62 L1097.89 496.81 L1108.38 489.3 L1118.88 481.69 L1129.37 473.77 L1139.87 466.4 L1150.36 459.19 L1160.86 448.1 L1171.35 436.84 L1181.85 426.66" fill="none" stroke="#b24fc9" stroke-width="1.5" stroke-linejoin="round" stroke-linecap="round"/><path d="M6.35 248.8 L16.85 243.5 L27.35 243.5 L37.84 239.28 L48.34 236.75 L58.83 238.53 L69.33 241.53 L79.82 243.95 L90.32 240.65 L100.81 241.85 L111.31 240.78 L121.81 235.32 L132.3 230.38 L142.8 238.62 L153.29 255.57 L163.79 268.3 L174.28 287.82 L184.78 306.32 L195.27 337.38 L205.77 368.68 L216.26 399.95 L226.76 424.9 L237.26 446.27 L247.75 453.32 L258.25 451.75 L268.74 449.55 L279.24 443.9 L289.73 444.6 L300.23 439.12 L310.72 436 L321.22 437.05 L331.72 436.1 L342.21 432.18 L352.71 431.88 L363.2 436.65 L373.7 444.02 L384.19 454.98 L394.69 466.95 L405.18 479.52 L415.68 493.3 L426.17 498.75 L436.67 514.52 L447.17 537.23 L457.66 556.62 L468.16 569.95 L478.65 584.1 L489.15 591.42 L499.64 598.02 L510.14 595.92 L520.63 592.42 L531.13 594.3 L541.62 598.4 L552.12 593.52 L562.62 590.79 L573.11 586.71 L583.61 581.96 L594.1 578.46 L604.6 571.51 L615.09 572.19 L625.59 573.04 L636.08 571.46 L646.58 561.71 L657.08 556.24 L667.57 551.83 L678.07 551.25 L688.56 548.67 L699.06 548.92 L709.55 549.1 L720.05 550.42 L730.54 550.8 L741.04 553.3 L751.53 556.88 L762.03 557.2 L772.53 562.38 L783.02 569.83 L793.52 579.5 L804.01 585.5 L814.51 591.77 L825 596.52 L835.5 599.58 L845.99 600 L856.49 600.67 L866.99 601.8 L877.48 597.88 L887.98 589.92 L898.47 583.08 L908.97 578.8 L919.46 577.73 L929.96 574.23 L940.45 570.42 L950.95 567.55 L961.45 565.92 L971.94 563.48 L982.44 562.52 L992.93 558.08 L1003.43 548.8 L1013.92 538.33 L1024.42 526.33 L1034.91 513.52 L1045.41 501.48 L1055.9 486.93 L1066.4 471.75 L1076.9 456.57 L1087.39 442.73 L1097.89 435.55 L1108.38 429.8 L1118.88 425.05 L1129.37 421.23 L1139.87 419.27 L1150.36 416.9 L1160.86 409.27 L1171.35 401.94 L1181.85 396.75" fill="none" stroke="#25c4dc" stroke-width="1.5" stroke-linejoin="round" stroke-linecap="round"/><path d="M6.35 194.4 L16.85 197.9 L27.35 220.8 L37.84 236.55 L48.34 259.9 L58.83 282.45 L69.33 285.15 L79.82 267.1 L90.32 244.75 L100.81 223.8 L111.31 199.1 L121.81 185.5 L132.3 193.65 L142.8 232.5 L153.29 287.35 L163.79 337.5 L174.28 390.15 L184.78 419 L195.27 442.25 L205.77 450 L216.26 462.4 L226.76 459.65 L237.26 473.55 L247.75 464.4 L258.25 453.5 L268.74 436.7 L279.24 428.15 L289.73 415.65 L300.23 413.85 L310.72 418.5 L321.22 437.4 L331.72 444.05 L342.21 448.7 L352.71 449.9 L363.2 454.8 L373.7 450.65 L384.19 465.9 L394.69 485.2 L405.18 509.15 L415.68 531.8 L426.17 546.85 L436.67 563.15 L447.17 589.25 L457.66 604.1 L468.16 608.1 L478.65 621.35 L489.15 619.7 L499.64 606.8 L510.14 587.75 L520.63 576.75 L531.13 567.25 L541.62 577.1 L552.12 580.25 L562.62 593.83 L573.11 596.68 L583.61 596.68 L594.1 579.83 L604.6 562.78 L615.09 550.55 L625.59 549.4 L636.08 546.25 L646.58 543.6 L657.08 549.7 L667.57 553.1 L678.07 553.1 L688.56 551.1 L699.06 554.25 L709.55 548.5 L720.05 547.75 L730.54 548.5 L741.04 555.5 L751.53 559.5 L762.03 565.9 L772.53 577 L783.02 591.15 L793.52 603.5 L804.01 611.5 L814.51 617.65 L825 616.05 L835.5 608 L845.99 596.5 L856.49 589.85 L866.99 585.95 L877.48 579.7 L887.98 571.85 L898.47 569.65 L908.97 567.75 L919.46 569.5 L929.96 568.75 L940.45 569 L950.95 565.45 L961.45 564.1 L971.94 557.45 L982.44 556.3 L992.93 547.15 L1003.43 532.15 L1013.92 512.55 L1024.42 495.2 L1034.91 470.75 L1045.41 455.8 L1055.9 441.7 L1066.4 430.95 L1076.9 417.95 L1087.39 414.7 L1097.89 415.3 L1108.38 417.9 L1118.88 419.15 L1129.37 424.5 L1139.87 423.85 L1150.36 418.5 L1160.86 400.65 L1171.35 384.73 L1181.85 369.01" fill="none" stroke="#ee4379" stroke-width="1.5" stroke-linejoin="round" stroke-linecap="round"/></g>
<line x1="10" x2="1254" y1="348.5" y2="348.5" stroke="#05a20f" stroke-width="1.95" stroke-dasharray="2.7 2.68"/>
<line x1="1253.6" x2="1253.6" y1="63" y2="689" stroke="#2a2a2a" stroke-width="1.5"/>
<line x1="1253" x2="1260" y1="105.65" y2="105.65" stroke="#2a2a2a" stroke-width="1.1"/>
<text x="1263.2" y="111.9" font-size="18.5" font-family="Liberation Sans, sans-serif" fill="#111" text-anchor="start" textLength="63.2" lengthAdjust="spacingAndGlyphs"  stroke="#111" stroke-width="0.2">4407.21</text>
<line x1="1253" x2="1260" y1="150.65" y2="150.65" stroke="#2a2a2a" stroke-width="1.1"/>
<text x="1263.2" y="156.9" font-size="18.5" font-family="Liberation Sans, sans-serif" fill="#111" text-anchor="start" textLength="63.2" lengthAdjust="spacingAndGlyphs"  stroke="#111" stroke-width="0.2">4366.86</text>
<line x1="1253" x2="1260" y1="195.65" y2="195.65" stroke="#2a2a2a" stroke-width="1.1"/>
<text x="1263.2" y="201.9" font-size="18.5" font-family="Liberation Sans, sans-serif" fill="#111" text-anchor="start" textLength="63.2" lengthAdjust="spacingAndGlyphs"  stroke="#111" stroke-width="0.2">4326.50</text>
<line x1="1253" x2="1260" y1="240.65" y2="240.65" stroke="#2a2a2a" stroke-width="1.1"/>
<text x="1263.2" y="246.9" font-size="18.5" font-family="Liberation Sans, sans-serif" fill="#111" text-anchor="start" textLength="63.2" lengthAdjust="spacingAndGlyphs"  stroke="#111" stroke-width="0.2">4286.15</text>
<line x1="1253" x2="1260" y1="285.65" y2="285.65" stroke="#2a2a2a" stroke-width="1.1"/>
<text x="1263.2" y="291.9" font-size="18.5" font-family="Liberation Sans, sans-serif" fill="#111" text-anchor="start" textLength="63.2" lengthAdjust="spacingAndGlyphs"  stroke="#111" stroke-width="0.2">4245.80</text>
<line x1="1253" x2="1260" y1="330.65" y2="330.65" stroke="#2a2a2a" stroke-width="1.1"/>
<text x="1263.2" y="336.9" font-size="18.5" font-family="Liberation Sans, sans-serif" fill="#111" text-anchor="start" textLength="63.2" lengthAdjust="spacingAndGlyphs"  stroke="#111" stroke-width="0.2">4205.44</text>
<line x1="1253" x2="1260" y1="375.65" y2="375.65" stroke="#2a2a2a" stroke-width="1.1"/>
<text x="1263.2" y="381.9" font-size="18.5" font-family="Liberation Sans, sans-serif" fill="#111" text-anchor="start" textLength="63.2" lengthAdjust="spacingAndGlyphs"  stroke="#111" stroke-width="0.2">4165.09</text>
<line x1="1253" x2="1260" y1="420.65" y2="420.65" stroke="#2a2a2a" stroke-width="1.1"/>
<text x="1263.2" y="426.9" font-size="18.5" font-family="Liberation Sans, sans-serif" fill="#111" text-anchor="start" textLength="63.2" lengthAdjust="spacingAndGlyphs"  stroke="#111" stroke-width="0.2">4124.74</text>
<line x1="1253" x2="1260" y1="465.65" y2="465.65" stroke="#2a2a2a" stroke-width="1.1"/>
<text x="1263.2" y="471.9" font-size="18.5" font-family="Liberation Sans, sans-serif" fill="#111" text-anchor="start" textLength="63.2" lengthAdjust="spacingAndGlyphs"  stroke="#111" stroke-width="0.2">4084.39</text>
<line x1="1253" x2="1260" y1="510.65" y2="510.65" stroke="#2a2a2a" stroke-width="1.1"/>
<text x="1263.2" y="516.9" font-size="18.5" font-family="Liberation Sans, sans-serif" fill="#111" text-anchor="start" textLength="63.2" lengthAdjust="spacingAndGlyphs"  stroke="#111" stroke-width="0.2">4044.03</text>
<line x1="1253" x2="1260" y1="555.65" y2="555.65" stroke="#2a2a2a" stroke-width="1.1"/>
<text x="1263.2" y="561.9" font-size="18.5" font-family="Liberation Sans, sans-serif" fill="#111" text-anchor="start" textLength="63.2" lengthAdjust="spacingAndGlyphs"  stroke="#111" stroke-width="0.2">4003.68</text>
<line x1="1253" x2="1260" y1="600.65" y2="600.65" stroke="#2a2a2a" stroke-width="1.1"/>
<text x="1263.2" y="606.9" font-size="18.5" font-family="Liberation Sans, sans-serif" fill="#111" text-anchor="start" textLength="63.2" lengthAdjust="spacingAndGlyphs"  stroke="#111" stroke-width="0.2">3963.33</text>
<line x1="1253" x2="1260" y1="645.65" y2="645.65" stroke="#2a2a2a" stroke-width="1.1"/>
<text x="1263.2" y="651.9" font-size="18.5" font-family="Liberation Sans, sans-serif" fill="#111" text-anchor="start" textLength="63.2" lengthAdjust="spacingAndGlyphs"  stroke="#111" stroke-width="0.2">3922.97</text>
<line x1="1253" x2="1260" y1="690.65" y2="690.65" stroke="#2a2a2a" stroke-width="1.1"/>
<text x="1263.2" y="696.9" font-size="18.5" font-family="Liberation Sans, sans-serif" fill="#111" text-anchor="start" textLength="63.2" lengthAdjust="spacingAndGlyphs"  stroke="#111" stroke-width="0.2">3882.62</text>
<rect x="1255.6" y="335.6" width="80" height="25.6" fill="#05a40c"/>
<line x1="1253" x2="1260" y1="348.4" y2="348.4" stroke="#fff" stroke-width="1.1"/>
<text x="1264.6" y="355" font-size="18.8" font-family="Liberation Sans, sans-serif" fill="#fff" text-anchor="start" textLength="65" lengthAdjust="spacingAndGlyphs"  stroke="#fff" stroke-width="0.3">4190.27</text>
<g filter="url(#wsh)" opacity="0.92"><text x="1022.03" y="670.62" font-size="35.5" font-family="'Liberation Sans', 'Noto Sans CJK SC', sans-serif" fill="#fff" text-anchor="start" stroke="#fff" stroke-width="0.32" stroke-linejoin="round">贺</text><text x="1058.03" y="670.6" font-size="35.5" font-family="'Liberation Sans', 'Noto Sans CJK SC', sans-serif" fill="#fff" text-anchor="start" stroke="#fff" stroke-width="0.32" stroke-linejoin="round">氏</text><text x="1095.38" y="670.73" font-size="35.5" font-family="'Liberation Sans', 'Noto Sans CJK SC', sans-serif" fill="#fff" text-anchor="start" stroke="#fff" stroke-width="0.32" stroke-linejoin="round">博</text><text x="1130.5" y="671.26" font-size="35.5" font-family="'Liberation Sans', 'Noto Sans CJK SC', sans-serif" fill="#fff" text-anchor="start" stroke="#fff" stroke-width="0.32" stroke-linejoin="round">生</text><text x="1166.3" y="670.4" font-size="36.5" font-family="Liberation Sans, sans-serif" fill="#fff" text-anchor="start" textLength="159" lengthAdjust="spacingAndGlyphs"  stroke="#fff" stroke-width="0.45">HBS6282</text><path d="M1001.5 645.5 c-7 -5 -18 -1.5 -26 6.5 c-8.5 8.5 -9 18 -0.5 22.5 c10 5 27 1.5 34.5 -8 c5.5 -7 2.5 -13.5 -6 -14.5 c1.5 -3 0.5 -5 -2 -6.5 z" fill="#fff"/><ellipse cx="987.3" cy="663.8" rx="13.4" ry="8.6" transform="rotate(-10 987.3 663.8)" fill="#fff" stroke="#c9c9c9" stroke-width="1.3"/><circle cx="984" cy="665.5" r="2.1" fill="#d4d4d4"/><circle cx="988.6" cy="662.6" r="0.9" fill="#d4d4d4"/><g fill="none" stroke="#fff" stroke-linecap="round"><path d="M1002.5 643.2 c5.5 -1.2 9 3.2 7 8.6" stroke-width="2.8"/><path d="M1000.5 636.8 c11 -3 19.5 6.5 15.5 18" stroke-width="3.2"/></g></g></svg>
</body></html>
